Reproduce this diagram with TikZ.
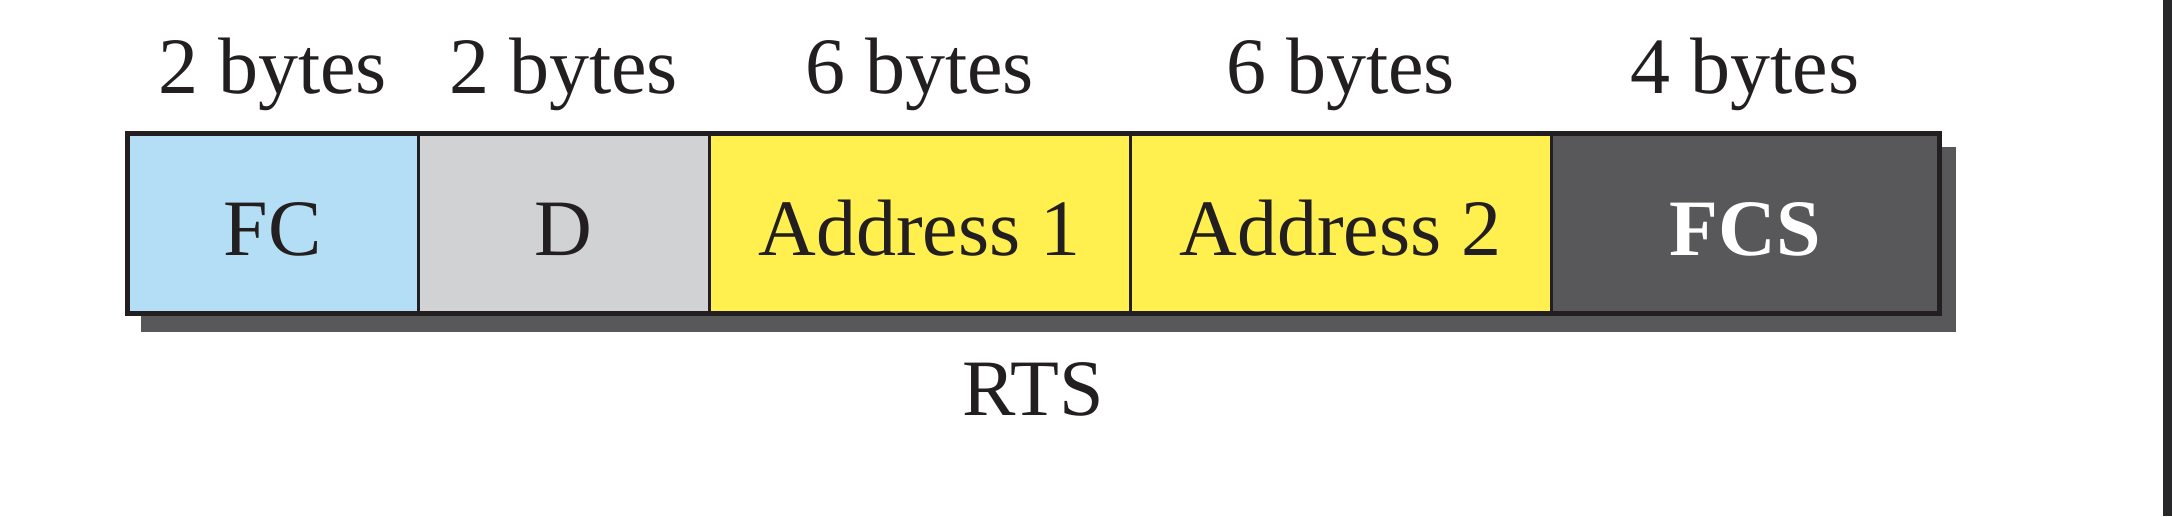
\documentclass[tikz,border=0pt]{standalone}
\usepackage{fontspec}
\setmainfont{Liberation Serif}
\definecolor{fcblue}{HTML}{B4DEF5}
\definecolor{dgrey}{HTML}{D1D2D4}
\definecolor{ayellow}{HTML}{FFF050}
\definecolor{fcsdark}{HTML}{58585A}
\definecolor{ink}{HTML}{231F20}
\definecolor{barink}{HTML}{28282A}
\tikzset{
  field/.style={draw=ink, line width=1.5pt, rectangle, inner sep=0pt, outer sep=0pt,
    minimum height=90pt, text height=32pt, text depth=0pt,
    font=\fontsize{40}{48}\selectfont, text=ink},
  lab/.style={anchor=base, inner sep=0pt, font=\fontsize{40}{48}\selectfont, text=ink},
}
\begin{document}
\begin{tikzpicture}[x=0.5pt,y=-0.5pt]
\useasboundingbox (0,0) rectangle (2172,516);
\fill[white] (0,0) rectangle (2172,516);
\fill[fcsdark] (141,147) rectangle (1956,332);
\node[field, fill=fcblue, minimum width=145.5pt] (fc) at (272.5,223) {FC};
\node[field, fill=dgrey, minimum width=145.5pt] (d) at (563.5,223) {D};
\node[field, fill=ayellow, minimum width=210.5pt] (a1) at (919.5,223) {Address 1};
\node[field, fill=ayellow, minimum width=210.5pt] (a2) at (1340.5,223) {Address 2};
\node[field, fill=fcsdark, minimum width=194pt, text=white, font=\fontsize{40}{48}\selectfont\bfseries] (fcs) at (1745,223) {FCS};
\draw[ink, line width=2.5pt] (fc.north west) rectangle (fcs.south east);
\node[lab] (l1) at (272.5,93) {2 bytes};
\node[lab] (l2) at (563.5,93) {2 bytes};
\node[lab] (l3) at (919.5,93) {6 bytes};
\node[lab] (l4) at (1340.5,93) {6 bytes};
\node[lab] (l5) at (1745,93) {4 bytes};
\node[lab] (rts) at (1033,415) {RTS};
\fill[barink] (2163,0) rectangle (2172,516);
\end{tikzpicture}
\end{document}
